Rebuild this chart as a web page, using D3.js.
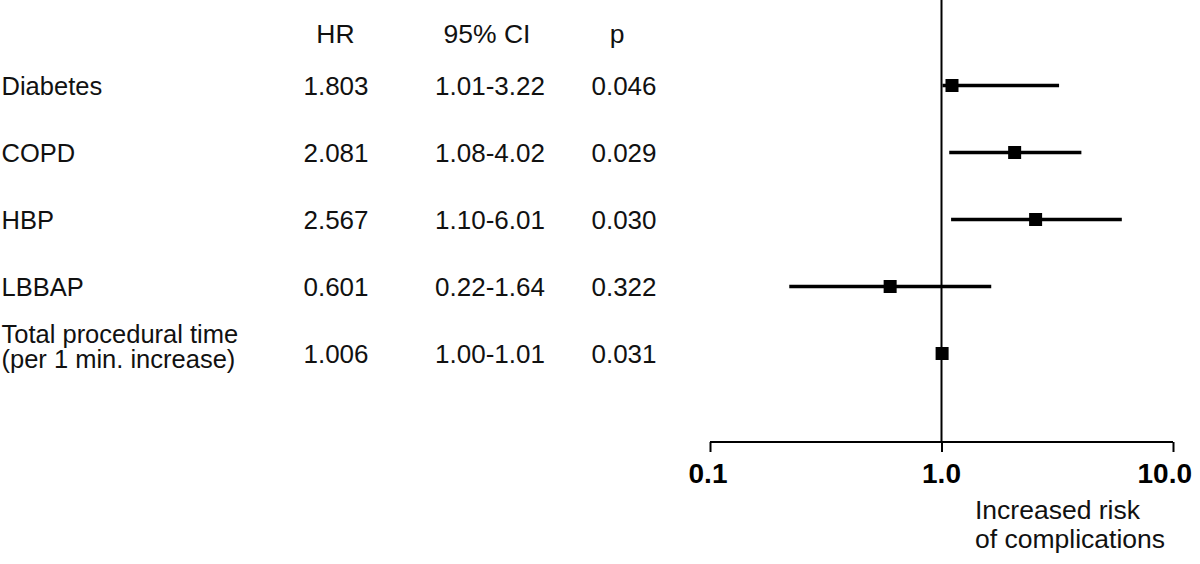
<!DOCTYPE html>
<html>
<head>
<meta charset="utf-8">
<script src="https://cdn.jsdelivr.net/npm/d3@7"></script>
<style>
  html, body { margin: 0; padding: 0; background: #fff; }
  svg { display: block; font-family: "Liberation Sans", Arial, sans-serif; }
</style>
</head>
<body>
<svg id="chart" width="1200" height="564"></svg>
<script>
// ---- data ----
const categories = ["Diabetes", "COPD", "HBP", "LBBAP", "Total procedural time|(per 1 min. increase)"];
const hrText = ["1.803", "2.081", "2.567", "0.601", "1.006"];
const ciText = ["1.01-3.22", "1.08-4.02", "1.10-6.01", "0.22-1.64", "1.00-1.01"];
const pText = ["0.046", "0.029", "0.030", "0.322", "0.031"];
const plottedHR = [1.11, 2.07, 2.55, 0.60, 1.006];   // square positions as drawn
const ciLow = [1.01, 1.08, 1.10, 0.22, 1.00];
const ciHigh = [3.22, 4.02, 6.01, 1.64, 1.01];
const headers = ["HR", "95% CI", "p"];
const tickValues = [0.1, 1, 10];
const tickLabels = ["0.1", "1.0", "10.0"];
const axisTitle = ["Increased risk", "of complications"];

// ---- layout ----
const svg = d3.select("#chart");
const x = d3.scaleLog().domain([0.1, 10]).range([710, 1173]);
const y = d3.scalePoint().domain(d3.range(categories.length)).range([85.5, 353.5]);
const axisY = 442;
const labelSize = 25.5;
const numSize = 26;
const textColor = "#111";

// headers
const headerX = [335.5, 487, 617];
svg.selectAll("text.header").data(headers).join("text")
  .attr("class", "header")
  .attr("x", (d, i) => headerX[i]).attr("y", 42.5)
  .attr("text-anchor", "middle")
  .attr("font-size", 26.5).attr("fill", textColor)
  .text(d => d);

// rows
const colX = [336, 490, 624];
const rows = svg.selectAll("g.row").data(categories).join("g").attr("class", "row");
rows.each(function(d, i) {
  const g = d3.select(this);
  const cy = y(i);
  const lines = d.split("|");
  if (lines.length === 1) {
    g.append("text").attr("x", 1.5).attr("y", cy + 9.5)
      .attr("font-size", labelSize).attr("fill", textColor).text(lines[0]);
  } else {
    lines.forEach((t, k) => {
      g.append("text").attr("x", 1.5).attr("y", cy - 10.5 + k * 24.8)
        .attr("font-size", labelSize).attr("fill", textColor).text(t);
    });
  }
  [hrText, ciText, pText].forEach((arr, c) => {
    g.append("text").attr("x", colX[c]).attr("y", cy + 9.5).attr("text-anchor", "middle")
      .attr("font-size", numSize).attr("fill", textColor).text(arr[i]);
  });
});

// reference line at 1.0
svg.append("line")
  .attr("x1", x(1)).attr("x2", x(1))
  .attr("y1", 0).attr("y2", axisY)
  .attr("stroke", "#000").attr("stroke-width", 2);

// CI lines
svg.selectAll("line.ci").data(categories).join("line")
  .attr("class", "ci")
  .attr("x1", (d, i) => x(ciLow[i])).attr("x2", (d, i) => x(ciHigh[i]))
  .attr("y1", (d, i) => y(i)).attr("y2", (d, i) => y(i))
  .attr("stroke", "#000").attr("stroke-width", 3.6);

// squares
const sq = 13;
svg.selectAll("rect.pt").data(categories).join("rect")
  .attr("class", "pt")
  .attr("x", (d, i) => x(plottedHR[i]) - sq / 2)
  .attr("y", (d, i) => y(i) - sq / 2)
  .attr("width", sq).attr("height", sq)
  .attr("fill", "#000");

// x axis
const axis = d3.axisBottom(x).tickValues(tickValues).tickSize(10).tickFormat("");
const ag = svg.append("g").attr("transform", `translate(0,${axisY})`).call(axis);
ag.select(".domain").attr("d", `M${x(0.1)},0H${x(10)}`).attr("stroke", "#000").attr("stroke-width", 2);
ag.selectAll(".tick line").attr("stroke", "#000").attr("stroke-width", 2);

// tick labels
svg.selectAll("text.tick-label").data(tickValues).join("text")
  .attr("class", "tick-label")
  .attr("x", (d, i) => i === tickValues.length - 1 ? x(d) + 19 : x(d) - (i === 0 ? 2 : 0))
  .attr("y", 483)
  .attr("text-anchor", (d, i) => i === tickValues.length - 1 ? "end" : "middle")
  .attr("font-size", 28).attr("font-weight", "bold").attr("fill", "#000")
  .text((d, i) => tickLabels[i]);

// axis title
svg.selectAll("text.axis-title").data(axisTitle).join("text")
  .attr("class", "axis-title")
  .attr("x", 975).attr("y", (d, i) => 519 + i * 29)
  .attr("font-size", 26.5).attr("fill", textColor)
  .text(d => d);
</script>
</body>
</html>
